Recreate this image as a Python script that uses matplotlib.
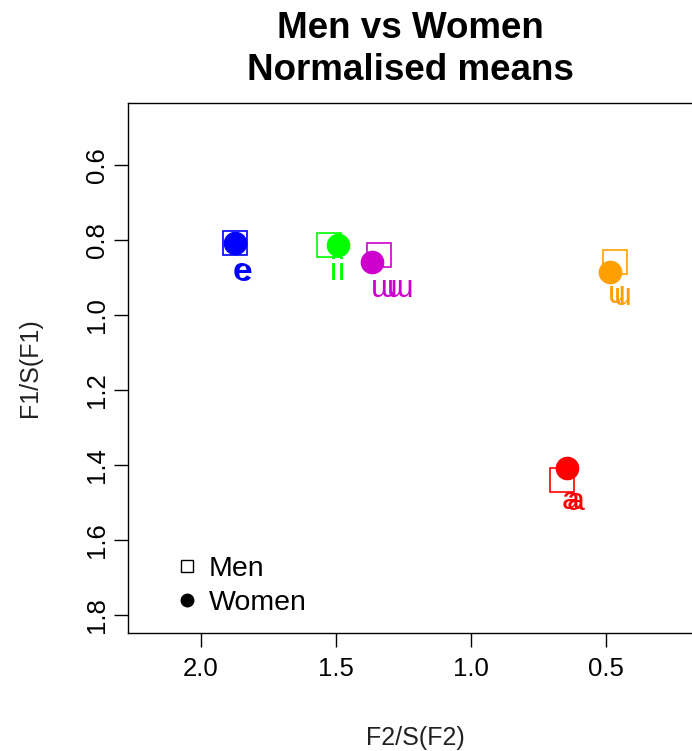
import matplotlib.pyplot as plt
from matplotlib.lines import Line2D

plt.rcParams['font.family'] = ['Liberation Sans', 'DejaVu Sans']

# Normalised means
vowels = ['e', 'i', 'ɯ', 'u', 'a']
colors = ['#0000FF', '#00FF00', '#CD00CD', '#FFA000', '#FF0000']

men_f2 = [1.874, 1.526, 1.341, 0.467, 0.663]
men_f1 = [0.808, 0.813, 0.840, 0.859, 1.440]
women_f2 = [1.874, 1.493, 1.367, 0.485, 0.644]
women_f1 = [0.808, 0.813, 0.859, 0.885, 1.408]

# label positions (men, women)
men_lab_f2 = [1.848, 1.511, 1.322, 0.459, 0.633]
men_lab_f1 = [0.885, 0.885, 0.931, 0.947, 1.496]
women_lab_f2 = [1.843, 1.478, 1.262, 0.436, 0.611]
women_lab_f1 = [0.887, 0.885, 0.931, 0.951, 1.500]

xticks = [2.0, 1.5, 1.0, 0.5]
yticks = [0.6, 0.8, 1.0, 1.2, 1.4, 1.6, 1.8]

fig = plt.figure(figsize=(6.92, 7.51), dpi=100)
ax = fig.add_axes([128 / 692, 118 / 751, 572 / 692, 530 / 751])

for i in range(len(vowels)):
    ax.plot(men_f2[i], men_f1[i], marker='s', ms=17, mfc='none', mec=colors[i], mew=1.2, ls='none')
for i in range(len(vowels)):
    ax.plot(women_f2[i], women_f1[i], marker='o', ms=16, mfc=colors[i], mec=colors[i], ls='none')
for i in range(len(vowels)):
    ax.text(men_lab_f2[i], men_lab_f1[i], vowels[i], color=colors[i], fontsize=23, ha='center', va='center')
    ax.text(women_lab_f2[i], women_lab_f1[i], vowels[i], color=colors[i], fontsize=23, ha='center', va='center')

ax.set_xlim(2.27, 0.152)
ax.set_ylim(1.848, 0.435)
ax.set_xticks(xticks)
ax.set_xticklabels([f'{t:.1f}' for t in xticks])
ax.set_yticks(yticks)
ax.set_yticklabels([f'{t:.1f}' for t in yticks], rotation=90, va='center')
ax.tick_params(length=10, width=1, labelsize=18.5)
ax.tick_params(axis='x', pad=7)
ax.tick_params(axis='y', pad=4)
for s in ax.spines.values():
    s.set_linewidth(1)

handles = [Line2D([], [], marker='s', ms=9, mfc='none', mec='black', mew=1, ls='none'),
           Line2D([], [], marker='o', ms=9, mfc='black', mec='black', ls='none')]
ax.legend(handles, ['Men', 'Women'], loc='upper left', bbox_to_anchor=(0.081, 0.145),
          frameon=False, fontsize=20.5, handlelength=0.9, handletextpad=0.3,
          labelspacing=0.28, borderpad=0, borderaxespad=0)

fig.text(0.593, 1 - 11 / 751, 'Men vs Women\nNormalised means', ha='center', va='top',
         fontsize=26.5, fontweight='bold', linespacing=1.27)
fig.text(415 / 692, 1 - 738 / 751, 'F2/S(F2)', ha='center', va='center', fontsize=18, color='#222222')
fig.text(30 / 692, 1 - 368 / 751, 'F1/S(F1)', ha='center', va='center', rotation=90, fontsize=18, color='#222222')

fig.savefig('out.png', dpi=100)
